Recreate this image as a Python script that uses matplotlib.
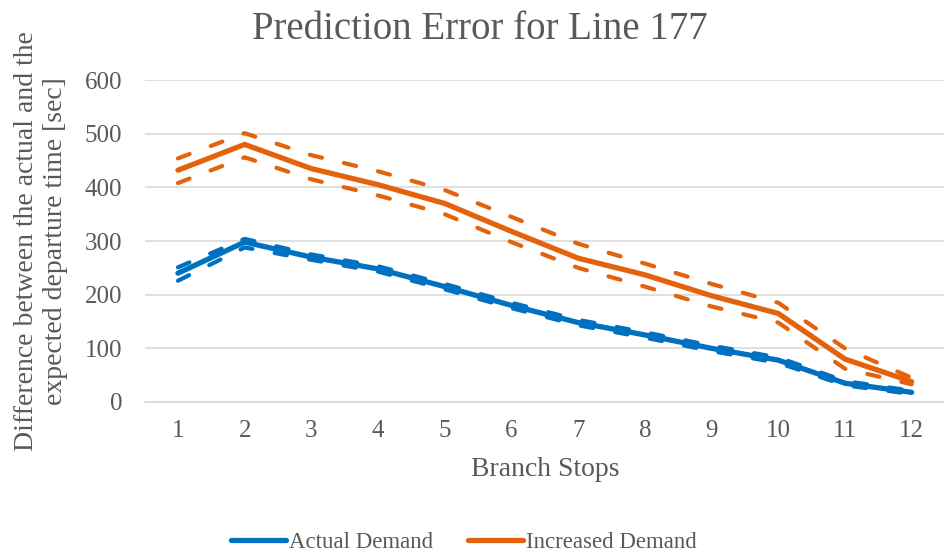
import matplotlib.pyplot as plt

plt.rcParams["font.family"] = ["Liberation Serif", "DejaVu Serif"]

BLUE = "#0070C0"
ORANGE = "#E4620C"
TEXT = "#595959"
GRID = "#D9D9D9"

stops = [1, 2, 3, 4, 5, 6, 7, 8, 9, 10, 11, 12]

# Actual demand: mean and the dashed bounds
actual = [240, 298, 270, 248, 215, 180, 148, 125, 100, 78, 35, 18]
actual_hi = [251, 304, 275, 253, 220, 185, 153, 130, 105, 83, 39, 21]
actual_lo = [226, 288, 265, 243, 210, 175, 143, 120, 95, 73, 31, 15]

# Increased demand: mean and the dashed bounds
increased = [432, 480, 435, 405, 370, 318, 268, 237, 198, 165, 80, 38]
increased_hi = [454, 501, 460, 430, 395, 345, 295, 258, 220, 185, 100, 45]
increased_lo = [408, 456, 415, 385, 350, 298, 250, 215, 178, 148, 62, 33]

yticks = [0, 100, 200, 300, 400, 500, 600]


def main():
    fig = plt.figure(figsize=(9.45, 5.56), dpi=100)
    ax = fig.add_axes([0.153, 0.277, 0.847, 0.579])

    dash = dict(linewidth=3.0, linestyle=(0, (3.0, 5.4)), dash_capstyle="round")
    ax.plot(stops, actual_hi, color=BLUE, **dash)
    ax.plot(stops, actual_lo, color=BLUE, **dash)
    ax.plot(stops, increased_hi, color=ORANGE, **dash)
    ax.plot(stops, increased_lo, color=ORANGE, **dash)

    ax.plot(stops, actual, color=BLUE, linewidth=3.8, solid_capstyle="round",
            label="Actual Demand")
    ax.plot(stops, increased, color=ORANGE, linewidth=3.8, solid_capstyle="round",
            label="Increased Demand")

    ax.set_xlim(0.5, 12.5)
    ax.set_ylim(0, 600)
    ax.set_xticks(stops)
    ax.set_yticks(yticks)
    ax.tick_params(length=0, labelsize=18, colors=TEXT)
    ax.tick_params(axis="x", pad=13)
    ax.tick_params(axis="y", pad=16)
    ax.grid(axis="y", color=GRID, linewidth=1.2)
    ax.set_axisbelow(True)
    for s in ["top", "right", "left"]:
        ax.spines[s].set_visible(False)
    ax.spines["bottom"].set_color(GRID)
    ax.spines["bottom"].set_linewidth(1.2)

    fig.text(0.508, 0.947, "Prediction Error for Line 177", fontsize=28,
             color=TEXT, ha="center", va="center")
    ax.set_xlabel("Branch Stops", fontsize=20, color=TEXT, labelpad=11)
    ax.set_ylabel("Difference between the actual and the\nexpected departure time [sec]",
                  fontsize=20, color=TEXT, linespacing=1.2)
    ax.yaxis.set_label_coords(-0.096, 0.5)

    leg = fig.legend(loc="center", bbox_to_anchor=(0.491, 0.025), ncol=2,
                     frameon=False, fontsize=16.5, handlelength=2.4,
                     handletextpad=0.15, columnspacing=1.5)
    for t in leg.get_texts():
        t.set_color(TEXT)

    fig.savefig("out.png", dpi=100)


if __name__ == "__main__":
    main()
